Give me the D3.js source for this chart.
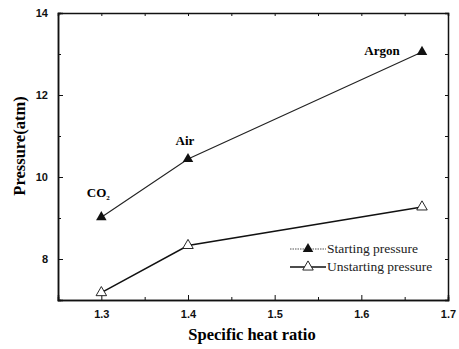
<!DOCTYPE html>
<html><head><meta charset="utf-8">
<script src="https://cdn.jsdelivr.net/npm/d3@7"></script>
<style>body{margin:0;background:#fff}svg{display:block}</style>
</head><body>
<script>
const xValues = [1.3, 1.4, 1.67];
const startingPressure = [9.02, 10.44, 13.05];
const unstartingPressure = [7.18, 8.33, 9.27];
const gasLabels = ["CO2", "Air", "Argon"];
const xTicks = [1.3, 1.4, 1.5, 1.6, 1.7];
const yTicks = [8, 10, 12, 14];
const seriesNames = ["Starting pressure", "Unstarting pressure"];

const W = 459, H = 349;
const m = {l: 58, r: 11, t: 13, b: 49};
const svg = d3.select("body").append("svg").attr("width", W).attr("height", H);
const x = d3.scaleLinear().domain([1.25, 1.7]).range([m.l, W - m.r]);
const y = d3.scaleLinear().domain([7, 14]).range([H - m.b, m.t]);

const tickFont = "bold 11px Arial, 'Liberation Sans', sans-serif";
const serif = "'Liberation Serif', 'Times New Roman', serif";

// axes
const xAxis = svg.append("g").attr("transform", `translate(0,${H - m.b})`)
  .call(d3.axisBottom(x).tickValues(xTicks).tickSize(-5).tickPadding(10).tickFormat(d3.format(".1f")));
const xMinor = svg.append("g").attr("transform", `translate(0,${H - m.b})`)
  .call(d3.axisBottom(x).tickValues([1.35, 1.45, 1.55, 1.65]).tickSize(-3).tickFormat(""));
const yAxis = svg.append("g").attr("transform", `translate(${m.l},0)`)
  .call(d3.axisLeft(y).tickValues(yTicks).tickSize(-5).tickPadding(10).tickFormat(d3.format("d")));
const yMinor = svg.append("g").attr("transform", `translate(${m.l},0)`)
  .call(d3.axisLeft(y).tickValues([9, 11, 13]).tickSize(-3).tickFormat(""));
const xTop = svg.append("g").attr("transform", `translate(0,${m.t})`)
  .call(d3.axisTop(x).tickValues(xTicks.concat([1.35,1.45,1.55,1.65])).tickSize(-3).tickFormat(""));
const yRight = svg.append("g").attr("transform", `translate(${W - m.r},0)`)
  .call(d3.axisRight(y).tickValues(yTicks.concat([9,11,13])).tickSize(-3).tickFormat(""));
[xAxis, xMinor, yAxis, yMinor, xTop, yRight].forEach(g => {
  g.selectAll("path").attr("stroke", "#111").attr("stroke-width", 1.5);
  g.selectAll("line").attr("stroke", "#111").attr("stroke-width", 1);
  g.selectAll("text").style("font", tickFont).attr("fill", "#111");
});

// axis titles
svg.append("text").attr("x", 252).attr("y", 340).attr("text-anchor", "middle")
  .style("font-family", serif).style("font-weight", "bold").style("font-size", "16.5px").text("Specific heat ratio");
svg.append("text").attr("transform", `translate(25,146) rotate(-90)`).attr("text-anchor", "middle")
  .style("font-family", serif).style("font-weight", "bold").style("font-size", "16.5px").text("Pressure(atm)");

// lines
const line = d3.line().x(d => x(d[0])).y(d => y(d[1]));
const sData = xValues.map((v, i) => [v, startingPressure[i]]);
const uData = xValues.map((v, i) => [v, unstartingPressure[i]]);
svg.append("path").datum(sData).attr("d", line).attr("fill", "none").attr("stroke", "#222").attr("stroke-width", 1.1);
svg.append("path").datum(uData).attr("d", line).attr("fill", "none").attr("stroke", "#111").attr("stroke-width", 1.5);

const tri = d3.symbol().type(d3.symbolTriangle).size(48);
svg.selectAll(".s").data(sData).enter().append("path")
  .attr("transform", d => `translate(${x(d[0])},${y(d[1])})`).attr("d", tri).attr("fill", "#111");
svg.selectAll(".u").data(uData).enter().append("path")
  .attr("transform", d => `translate(${x(d[0])},${y(d[1])})`).attr("d", tri).attr("fill", "#fff").attr("stroke", "#111").attr("stroke-width", 0.9);

// gas labels
const lblOff = [[-3, -20], [-3, -14], [-40, 3]];
gasLabels.forEach((g, i) => {
  const t = svg.append("text").attr("x", x(xValues[i]) + lblOff[i][0]).attr("y", y(startingPressure[i]) + lblOff[i][1])
    .attr("text-anchor", "middle").style("font-family", serif).style("font-weight", "bold").style("font-size", "13px");
  if (g === "CO2") {
    t.append("tspan").text("CO");
    t.append("tspan").attr("dy", 3).style("font-size", "7px").text("2");
  } else t.text(g);
});

// legend
const lg = svg.append("g");
const lx0 = 290, lx1 = 326, ly = [249, 267];
seriesNames.forEach((n, i) => {
  lg.append("line").attr("x1", lx0).attr("x2", lx1).attr("y1", ly[i]).attr("y2", ly[i])
    .attr("stroke", i === 0 ? "#555" : "#111").attr("stroke-width", i === 0 ? 1.2 : 1.3)
    .attr("stroke-dasharray", i === 0 ? "1.5,1" : null);
  lg.append("path").attr("transform", `translate(${(lx0 + lx1) / 2},${ly[i]})`).attr("d", tri)
    .attr("fill", i === 0 ? "#111" : "#fff").attr("stroke", "#111").attr("stroke-width", i === 0 ? 0 : 0.9);
  lg.append("text").attr("x", lx1 + 1).attr("y", ly[i] + 4).style("font-family", serif).style("font-size", "13.5px").attr("fill", "#222").text(n);
});
</script>
</body></html>
